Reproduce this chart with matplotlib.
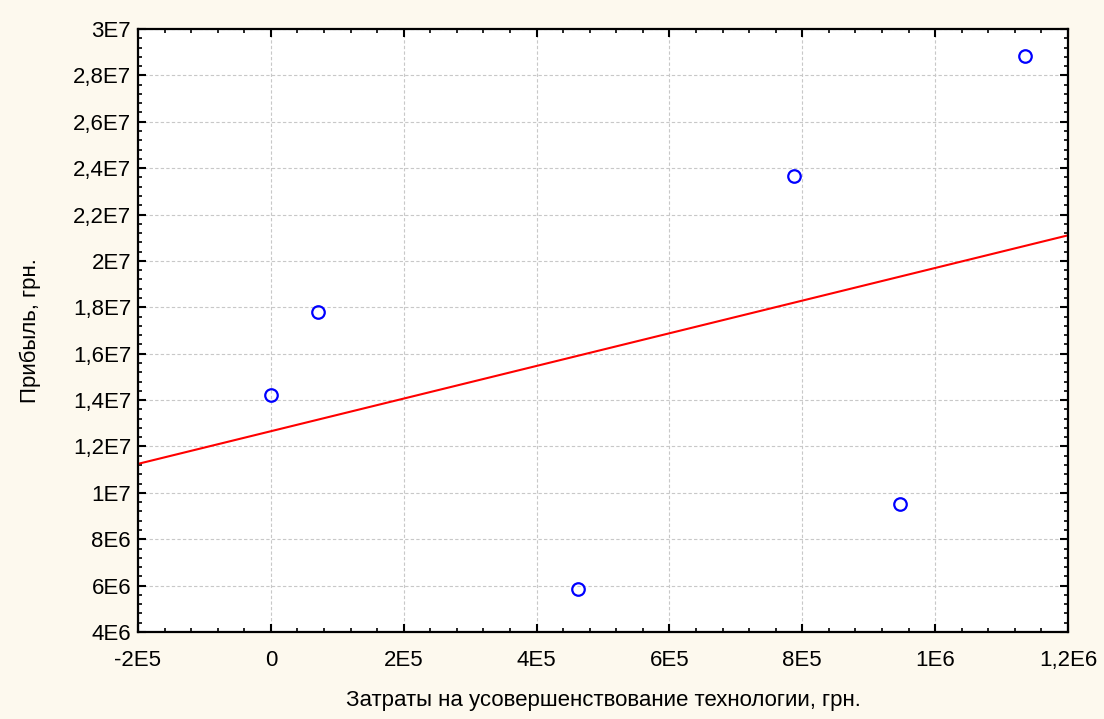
import numpy as np
import matplotlib.pyplot as plt
from matplotlib.ticker import FuncFormatter, AutoMinorLocator

# costs on technology improvement, UAH
costs = [0, 71000, 462000, 787500, 947000, 1135000]
# profit, UAH
profit = [14.22e6, 17.80e6, 5.85e6, 23.66e6, 9.52e6, 28.84e6]

x_ticks = [-2e5, 0, 2e5, 4e5, 6e5, 8e5, 1e6, 1.2e6]
y_ticks = [4e6, 6e6, 8e6, 1e7, 1.2e7, 1.4e7, 1.6e7, 1.8e7, 2e7, 2.2e7, 2.4e7, 2.6e7, 2.8e7, 3e7]


def sci_fmt(v, pos):
    if v == 0:
        return "0"
    exp = int(np.floor(np.log10(abs(v))))
    mant = v / 10 ** exp
    s = ("%.1f" % mant).rstrip("0").rstrip(".")
    return s.replace(".", ",") + "E%d" % exp


plt.rcParams['font.family'] = ['Liberation Sans', 'DejaVu Sans']

fig = plt.figure(figsize=(11.04, 7.19), dpi=100, facecolor='#fdf9ee')
ax = fig.add_axes([0.125, 0.121, 0.8424, 0.8387])
ax.set_facecolor('white')

# linear fit
k, b = np.polyfit(costs, profit, 1)
xs = np.array([-2e5, 1.2e6])
ax.plot(xs, k * xs + b, color='red', lw=1.5, zorder=2)

ax.plot(costs, profit, 'o', mfc='none', mec='#0000ff', mew=1.6, ms=9, zorder=3)

ax.set_xlim(-2e5, 1.2e6)
ax.set_ylim(4e6, 3e7)
ax.set_xticks(x_ticks)
ax.set_yticks(y_ticks)
ax.xaxis.set_major_formatter(FuncFormatter(sci_fmt))
ax.yaxis.set_major_formatter(FuncFormatter(sci_fmt))
ax.xaxis.set_minor_locator(AutoMinorLocator(5))
ax.yaxis.set_minor_locator(AutoMinorLocator(5))

ax.tick_params(which='both', direction='in', top=True, right=True, labelsize=16, color='black')
ax.tick_params(which='major', length=6, width=1.5)
ax.tick_params(which='minor', length=3, width=1.2)
ax.tick_params(axis='x', which='major', pad=13)
ax.tick_params(axis='y', which='major', pad=5)

for sp in ax.spines.values():
    sp.set_linewidth(1.6)

ax.grid(True, which='major', color='#c8c8c8', ls=(0, (3, 2)), lw=0.8)

ax.set_xlabel('Затраты на усовершенствование технологии, грн.', fontsize=16)
ax.set_ylabel('Прибыль, грн.', fontsize=16)
ax.xaxis.set_label_coords(0.5, -0.114)
ax.xaxis.label.set_va('center')
ax.yaxis.set_label_coords(-0.116, 0.5)
ax.yaxis.label.set_va('center')

fig.savefig('out.png', dpi=100, facecolor=fig.get_facecolor())
